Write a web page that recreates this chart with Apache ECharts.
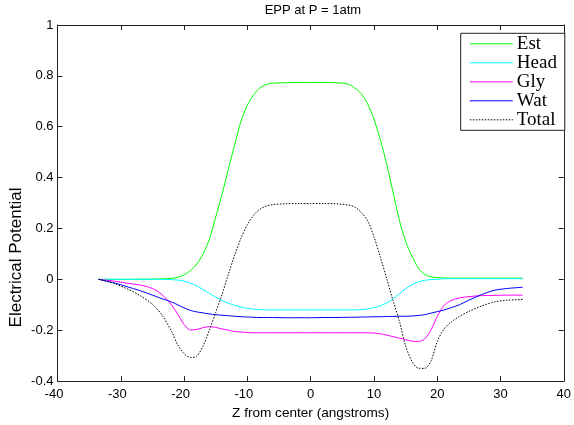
<!DOCTYPE html>
<html>
<head>
<meta charset="utf-8">
<script src="https://cdn.jsdelivr.net/npm/echarts@6/dist/echarts.min.js"></script>
<style>html,body{margin:0;padding:0;background:#fff;}#c{width:574px;height:425px;}</style>
</head>
<body>
<div id="c"></div>
<script>
const zValues = [-33.5, -31, -29, -27, -25, -23.5, -22, -21, -20, -19, -18, -17, -16, -15, -14, -13, -12, -11, -10, -9, -8, -7, -6, -4, -2, 0, 2, 4, 6, 7, 8, 9, 10, 11, 12, 13, 14, 15, 16, 17, 18, 19, 20, 21, 22, 23.5, 25, 27, 29, 31, 33.5];
const estValues = [0, 0, 0, 0.001, 0.001, 0.002, 0.004, 0.008, 0.018, 0.034, 0.06, 0.1, 0.158, 0.245, 0.335, 0.433, 0.53, 0.622, 0.685, 0.726, 0.753, 0.766, 0.771, 0.773, 0.774, 0.774, 0.774, 0.773, 0.767, 0.752, 0.73, 0.69, 0.63, 0.55, 0.455, 0.345, 0.235, 0.15, 0.092, 0.045, 0.02, 0.01, 0.007, 0.006, 0.005, 0.005, 0.005, 0.005, 0.005, 0.005, 0.005];
const headValues = [0, 0, 0, 0, 0, 0, -0.001, -0.003, -0.007, -0.015, -0.025, -0.04, -0.055, -0.07, -0.083, -0.094, -0.102, -0.109, -0.114, -0.117, -0.119, -0.12, -0.12, -0.12, -0.12, -0.12, -0.12, -0.12, -0.12, -0.12, -0.119, -0.116, -0.111, -0.104, -0.093, -0.077, -0.057, -0.037, -0.021, -0.01, -0.004, -0.001, 0, 0.002, 0.003, 0.003, 0.003, 0.003, 0.003, 0.003, 0.003];
const glyValues = [0, -0.007, -0.015, -0.022, -0.036, -0.06, -0.1, -0.137, -0.177, -0.199, -0.197, -0.19, -0.186, -0.189, -0.195, -0.2, -0.205, -0.207, -0.209, -0.21, -0.21, -0.21, -0.21, -0.21, -0.21, -0.21, -0.21, -0.21, -0.21, -0.21, -0.21, -0.21, -0.211, -0.214, -0.219, -0.225, -0.231, -0.237, -0.243, -0.244, -0.235, -0.2, -0.146, -0.105, -0.086, -0.073, -0.068, -0.064, -0.063, -0.062, -0.062];
const watValues = [0, -0.014, -0.029, -0.044, -0.062, -0.076, -0.089, -0.1, -0.112, -0.122, -0.128, -0.132, -0.136, -0.139, -0.141, -0.143, -0.145, -0.147, -0.148, -0.149, -0.15, -0.15, -0.15, -0.151, -0.151, -0.151, -0.15, -0.15, -0.149, -0.149, -0.148, -0.148, -0.147, -0.147, -0.146, -0.146, -0.145, -0.145, -0.144, -0.142, -0.139, -0.133, -0.127, -0.121, -0.113, -0.1, -0.082, -0.06, -0.043, -0.036, -0.031];
const totalValues = [0, -0.017, -0.037, -0.063, -0.098, -0.14, -0.203, -0.258, -0.292, -0.307, -0.302, -0.262, -0.2, -0.13, -0.06, 0.02, 0.095, 0.162, 0.215, 0.252, 0.276, 0.288, 0.294, 0.297, 0.298, 0.298, 0.298, 0.297, 0.292, 0.284, 0.263, 0.23, 0.168, 0.088, 0.005, -0.082, -0.162, -0.26, -0.322, -0.349, -0.35, -0.322, -0.245, -0.198, -0.172, -0.146, -0.126, -0.105, -0.089, -0.082, -0.079];
const seriesNames = ['Est', 'Head', 'Gly', 'Wat', 'Total'];
const seriesColors = ['#00ff00', '#00ffff', '#ff00ff', '#0000ff', '#000000'];
const xTicks = {min: -40, max: 40, interval: 10};
const yTicks = {min: -0.4, max: 1, interval: 0.2};

const allValues = [estValues, headValues, glyValues, watValues, totalValues];
const chart = echarts.init(document.getElementById('c'), null, {renderer: 'canvas'});
const axisColor = '#222';
const sans = "'Liberation Sans', Arial, sans-serif";
function pairs(vals) { return zValues.map((z, i) => [z, vals[i]]); }

const series = seriesNames.map((name, i) => ({
  name: name,
  type: 'line',
  xAxisIndex: 0,
  yAxisIndex: 0,
  data: pairs(allValues[i]),
  symbol: 'none',
  showSymbol: false,
  smooth: 0.3,
  animation: false,
  lineStyle: {color: seriesColors[i], width: 1, type: name === 'Total' ? [1.5, 1.5] : 'solid'},
  itemStyle: {color: seriesColors[i]}
}));

const baseAxis = {
  axisLine: {show: true, onZero: false, lineStyle: {color: axisColor, width: 1}},
  axisTick: {show: true, inside: true, length: 5, lineStyle: {color: axisColor, width: 1}},
  splitLine: {show: false}
};

chart.setOption({
  animation: false,
  backgroundColor: '#fff',
  title: {
    text: 'EPP at P = 1atm',
    left: 312.9, top: 4, textAlign: 'center', padding: 0,
    textStyle: {fontFamily: sans, fontSize: 13, fontWeight: 'normal', color: '#000'}
  },
  grid: {left: 57.5, right: 5.7, top: 25, bottom: 41, containLabel: false},
  xAxis: [
    Object.assign({}, baseAxis, {
      type: 'value', position: 'bottom', min: xTicks.min, max: xTicks.max, interval: xTicks.interval,
      name: 'Z from center (angstroms)', nameLocation: 'middle', nameGap: 21,
      nameTextStyle: {fontFamily: sans, fontSize: 13.6, color: '#000'},
      axisLabel: {
        show: true, margin: 7, fontFamily: sans, fontSize: 13, color: '#000',
        formatter: function (v) { return v < 0 ? '{n|' + v + '}' : String(v); },
        rich: {n: {fontFamily: sans, fontSize: 13, color: '#000', padding: [0, 7, 0, 0]}}
      }
    }),
    Object.assign({}, baseAxis, {
      type: 'value', position: 'top', min: xTicks.min, max: xTicks.max, interval: xTicks.interval,
      axisLabel: {show: false}
    })
  ],
  yAxis: [
    Object.assign({}, baseAxis, {
      type: 'value', position: 'left', min: yTicks.min, max: yTicks.max, interval: yTicks.interval,
      axisLabel: {show: true, margin: 4, fontFamily: sans, fontSize: 13, color: '#000'}
    }),
    Object.assign({}, baseAxis, {
      type: 'value', position: 'right', min: yTicks.min, max: yTicks.max, interval: yTicks.interval,
      axisLabel: {show: false}
    })
  ],
  legend: {
    show: true,
    orient: 'vertical',
    left: 460.7, top: 33.3,
    padding: [1, 1, 1, 8.6],
    itemGap: 0,
    itemWidth: 43,
    itemHeight: 13.5,
    selectedMode: false,
    backgroundColor: '#fff',
    borderColor: '#222',
    borderWidth: 1,
    borderRadius: 0,
    itemStyle: {opacity: 0},
    lineStyle: {width: 1},
    data: seriesNames,
    textStyle: {fontFamily: "'Liberation Serif', 'Times New Roman', serif", fontSize: 19, color: '#000', lineHeight: 13.5, width: 47, padding: [2, 0, 0, -1]}
  },
  graphic: [{
    type: 'text',
    x: 16, y: 257.5,
    rotation: Math.PI / 2,
    style: {text: 'Electrical Potential', fontFamily: sans, fontSize: 17, fill: '#000', align: 'center', verticalAlign: 'middle'}
  }],
  series: series
});
</script>
</body>
</html>
